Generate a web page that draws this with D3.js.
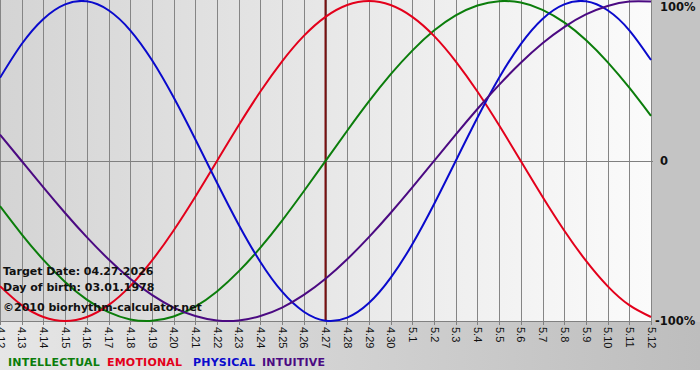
<!DOCTYPE html>
<html>
<head>
<meta charset="utf-8">
<script src="https://cdn.jsdelivr.net/npm/d3@7"></script>
<style>
    body { margin: 0; background: #fff; }
    svg { display: block; }
</style>
</head>
<body>
<svg id="chart" width="700" height="380"></svg>
<script>
// dates on the x axis (4.12 .. 5.12)
const days = [
    "4.12", "4.13", "4.14", "4.15", "4.16", "4.17", "4.18", "4.19", "4.20", "4.21",
    "4.22", "4.23", "4.24", "4.25", "4.26", "4.27", "4.28", "4.29", "4.30", "5.1",
    "5.2", "5.3", "5.4", "5.5", "5.6", "5.7", "5.8", "5.9", "5.10", "5.11", "5.12",
];
const targetDay = "4.27";

// values in %, one per day
const intellectual = [-28.2, -45.8, -61.8, -75.6, -86.6, -94.5, -99.0, -99.9, -97.2, -91.0, -81.5,
    -69.0, -54.1, -37.2, -18.9, 0, 18.9, 37.2, 54.1, 69.0, 81.5, 91.0, 97.2, 99.9, 99.0, 94.5,
    86.6, 75.6, 61.8, 45.8, 28.2];
const emotional = [-78.2, -90.1, -97.5, -100, -97.5, -90.1, -78.2, -62.3, -43.4, -22.3, 0,
    22.3, 43.4, 62.3, 78.2, 90.1, 97.5, 100, 97.5, 90.1, 78.2, 62.3, 43.4, 22.3, 0, -22.3,
    -43.4, -62.3, -78.2, -90.1, -97.5];
const physical = [52.0, 73.1, 88.8, 97.9, 99.8, 94.2, 81.7, 63.1, 39.8, 13.6, -13.6,
    -39.8, -63.1, -81.7, -94.2, -99.8, -97.9, -88.8, -73.1, -52.0, -27.0, 0, 27.0, 52.0, 73.1,
    88.8, 97.9, 99.8, 94.2, 81.7, 63.1];
const intuitive = [16.5, 0, -16.5, -32.5, -47.6, -61.4, -73.6, -83.7, -91.6, -96.9, -99.7,
    -99.7, -96.9, -91.6, -83.7, -73.6, -61.4, -47.6, -32.5, -16.5, 0, 16.5, 32.5, 47.6, 61.4,
    73.6, 83.7, 91.6, 96.9, 99.7, 99.7];

const yTicks = [100, 0, -100];
const yTickLabels = ["100%", "0", "-100%"];

const series = [
    { name: "INTELLECTUAL", values: intellectual, color: "#0b7d0b" },
    { name: "EMOTIONAL", values: emotional, color: "#e3001b" },
    { name: "PHYSICAL", values: physical, color: "#0a0acc" },
    { name: "INTUITIVE", values: intuitive, color: "#4b0a82" },
];
const infoLines = ["Target Date: 04.27.2026", "Day of birth: 03.01.1978", "\u00a92010 biorhythm-calculator.net"];

const svg = d3.select("#chart");
const plotW = 651, plotH = 321;

const x = d3.scalePoint().domain(days).range([0, plotW]);
const y = d3.scaleLinear().domain([-100, 100]).range([plotH, 1]);

// gradients
const defs = svg.append("defs");
const bg = defs.append("linearGradient").attr("id", "bg").attr("x1", 0).attr("x2", 1).attr("y1", 0).attr("y2", 0);
bg.append("stop").attr("offset", "0%").attr("stop-color", "#e6e6e6");
bg.append("stop").attr("offset", "100%").attr("stop-color", "#bdbdbd");
const plotBg = defs.append("linearGradient").attr("id", "plotbg").attr("x1", 0).attr("x2", 1).attr("y1", 0).attr("y2", 0);
plotBg.append("stop").attr("offset", "0%").attr("stop-color", "#d4d4d4");
plotBg.append("stop").attr("offset", "100%").attr("stop-color", "#fbfbfb");

svg.append("rect").attr("width", 700).attr("height", 370).attr("fill", "url(#bg)");
svg.append("rect").attr("x", 652).attr("width", 48).attr("height", plotH + 1).attr("fill", "#c4c4c4");
svg.append("rect").attr("width", plotW).attr("height", plotH).attr("fill", "url(#plotbg)");

// vertical day grid
svg.append("g")
    .attr("transform", `translate(0,${plotH})`)
    .call(d3.axisBottom(x).tickSize(-plotH).tickSizeOuter(0).tickFormat(""))
    .call(g => g.select(".domain").remove())
    .call(g => g.selectAll(".tick line").attr("stroke", "#858585").attr("shape-rendering", "crispEdges"));

// bottom axis with rotated day labels
svg.append("g")
    .attr("transform", `translate(0,${plotH})`)
    .call(d3.axisBottom(x).tickSize(4).tickSizeOuter(0))
    .call(g => g.select(".domain").attr("stroke", "#808080").attr("shape-rendering", "crispEdges"))
    .call(g => g.selectAll(".tick line").attr("stroke", "#808080").attr("shape-rendering", "crispEdges"))
    .call(g => g.selectAll(".tick text")
        .attr("transform", "rotate(90)")
        .attr("x", 6).attr("y", 0).attr("dy", "0.35em")
        .attr("text-anchor", "start")
        .attr("fill", "#111")
        .style("font", "11px 'Liberation Sans', Arial, sans-serif"));

// zero line
svg.append("line")
    .attr("x1", 0).attr("x2", plotW + 2)
    .attr("y1", Math.round(y(0)) + 0.5).attr("y2", Math.round(y(0)) + 0.5)
    .attr("stroke", "#808080");

// target date line
svg.append("line")
    .attr("x1", x(targetDay)).attr("x2", x(targetDay))
    .attr("y1", 0).attr("y2", plotH)
    .attr("stroke", "#7a1010").attr("stroke-width", 2);

// y labels on the right
svg.append("g").selectAll("text")
    .data(yTicks)
    .join("text")
    .attr("x", (d, i) => i === 2 ? 655 : 660)
    .attr("y", d => y(d) + (d === 100 ? 6 : 0))
    .attr("dy", "0.35em")
    .attr("fill", "#111")
    .style("font", "bold 11.5px 'DejaVu Sans', Verdana, sans-serif")
    .text((d, i) => yTickLabels[i]);

// curves
const line = d3.line()
    .x((d, i) => x(days[i]))
    .y(d => y(d))
    .curve(d3.curveNatural);

svg.append("g").selectAll("path")
    .data(series)
    .join("path")
    .attr("d", s => line(s.values))
    .attr("fill", "none")
    .attr("stroke", s => s.color)
    .attr("stroke-width", 2);

// info text
svg.append("g").selectAll("text")
    .data(infoLines)
    .join("text")
    .attr("x", 3)
    .attr("y", (d, i) => [275, 291, 311][i])
    .attr("fill", "#111")
    .style("font", "bold 11px 'DejaVu Sans', Verdana, sans-serif")
    .text(d => d);

// legend
const legendX = [8, 107, 193, 262];
svg.append("g").selectAll("text")
    .data(series)
    .join("text")
    .attr("x", (s, i) => legendX[i])
    .attr("y", 366)
    .attr("fill", s => s.color)
    .style("font", "bold 11px 'DejaVu Sans', Verdana, sans-serif")
    .style("letter-spacing", "0.2px")
    .text(s => s.name);
</script>
</body>
</html>
